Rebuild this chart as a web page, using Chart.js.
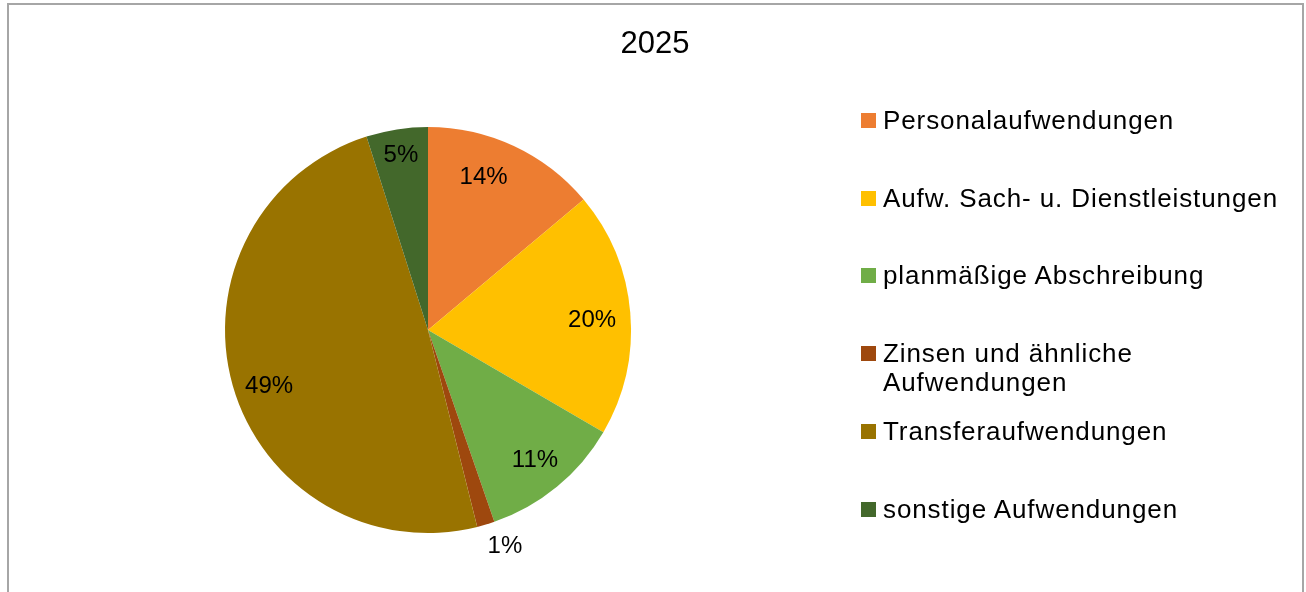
<!DOCTYPE html>
<html>
<head>
<meta charset="utf-8">
<script src="https://cdn.jsdelivr.net/npm/chart.js@4/dist/chart.umd.min.js"></script>
<style>
  body { margin: 0; background: #fff; font-family: "Liberation Sans", Arial, sans-serif; }
  #wrap { position: relative; width: 1306px; height: 592px; overflow: hidden; }
  #frame { position: absolute; left: 7px; top: 3px; width: 1297px; height: 600px;
           border: 2px solid #a6a6a6; box-sizing: border-box; }
  #title { position: absolute; left: 0; width: 1310px; top: 25px; text-align: center;
           font-size: 31px; color: #000; }
  #legend { position: absolute; left: 861px; top: 0; }
  .item { position: absolute; left: 0; white-space: nowrap; font-size: 26px; letter-spacing: 0.9px;
          line-height: 29px; color: #000; }
  .box { position: absolute; left: 0; top: 7px; width: 15px; height: 15px; }
  .txt { position: absolute; left: 22px; top: 0; }
  canvas { position: absolute; left: 0; top: 0; }
</style>
</head>
<body>
<div id="wrap">
  <div id="frame"></div>
  <canvas id="pieChart" width="1306" height="592"></canvas>
  <div id="title">2025</div>
  <div id="legend"></div>
</div>
<script>
let chartTitle = '2025';
let categories = [
    'Personalaufwendungen',
    'Aufw. Sach- u. Dienstleistungen',
    'planmäßige Abschreibung',
    ['Zinsen und ähnliche', 'Aufwendungen'],
    'Transferaufwendungen',
    'sonstige Aufwendungen'
];
let shares = [13.9, 19.5, 11.3, 1.4, 49.0, 4.9];
let sliceColors = ['#ED7D31', '#FFC000', '#70AD47', '#9E480E', '#997300', '#43682B'];

// where each % label sits: share of the radius, and how far along the slice (0.5 = middle)
let labelDistance = [0.8, 0.81, 0.83, 1.13, 0.83, 0.87];
let labelAlong = [0.4, 0.52, 0.5, -0.1, 0.48, 0.5];

let pctLabels = {
    id: 'pctLabels',
    afterDatasetsDraw(chart) {
        let ctx = chart.ctx;
        let meta = chart.getDatasetMeta(0);
        let total = shares.reduce((a, b) => a + b, 0);
        ctx.save();
        ctx.font = '24px "Liberation Sans", Arial, sans-serif';
        ctx.fillStyle = '#000';
        ctx.textAlign = 'center';
        ctx.textBaseline = 'middle';
        meta.data.forEach((arc, i) => {
            let p = arc.getProps(['x', 'y', 'startAngle', 'endAngle', 'outerRadius'], true);
            let a = p.startAngle + (p.endAngle - p.startAngle) * labelAlong[i];
            let r = p.outerRadius * labelDistance[i];
            let txt = Math.round(shares[i] / total * 100) + '%';
            ctx.fillText(txt, p.x + Math.cos(a) * r, p.y + Math.sin(a) * r);
        });
        ctx.restore();
    }
};

let pieChartCtx = document.getElementById('pieChart').getContext('2d');
let pieChart = new Chart(pieChartCtx, {
    type: 'pie',
    data: {
        labels: categories,
        datasets: [{
            data: shares,
            backgroundColor: sliceColors,
            borderWidth: 0
        }]
    },
    options: {
        responsive: false,
        animation: false,
        layout: { padding: { top: 127, bottom: 59, left: 225, right: 675 } },
        plugins: {
            legend: { display: false },
            title: { display: false },
            tooltip: { enabled: false }
        }
    },
    plugins: [pctLabels]
});

document.getElementById('title').textContent = chartTitle;

// legend, one slot per category
let legend = document.getElementById('legend');
categories.forEach((c, i) => {
    let item = document.createElement('div');
    item.className = 'item';
    item.style.top = (106 + i * 77.7) + 'px';
    let box = document.createElement('div');
    box.className = 'box';
    box.style.background = sliceColors[i];
    let txt = document.createElement('div');
    txt.className = 'txt';
    txt.innerHTML = Array.isArray(c) ? c.join('<br>') : c;
    item.appendChild(box);
    item.appendChild(txt);
    legend.appendChild(item);
});
</script>
</body>
</html>
